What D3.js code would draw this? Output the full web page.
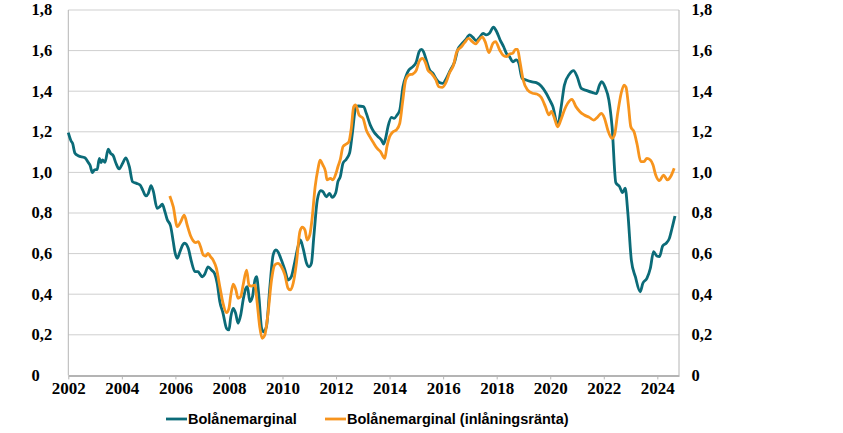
<!DOCTYPE html>
<html>
<head>
<meta charset="utf-8">
<script src="https://cdn.jsdelivr.net/npm/d3@7"></script>
<style>
  html, body { margin: 0; padding: 0; background: #fff; }
  svg { display: block; }
</style>
</head>
<body>
<svg id="chart" width="843" height="433"></svg>
<script>
// Bolånemarginal, [decimal year, percent]
const marginal = [
  [2002.00, 1.196], [2002.10, 1.156], [2002.16, 1.143], [2002.25, 1.094], [2002.37, 1.082],
  [2002.62, 1.072], [2002.75, 1.048], [2002.81, 1.036], [2002.90, 0.999], [2002.97, 1.012],
  [2003.08, 1.015], [2003.16, 1.069], [2003.22, 1.048], [2003.28, 1.061], [2003.37, 1.050],
  [2003.49, 1.115], [2003.58, 1.094], [2003.68, 1.082], [2003.78, 1.045], [2003.90, 1.017],
  [2004.03, 1.045], [2004.15, 1.072], [2004.28, 1.028], [2004.40, 0.954], [2004.55, 0.946],
  [2004.68, 0.938], [2004.78, 0.913], [2004.90, 0.884], [2004.99, 0.897], [2005.09, 0.935],
  [2005.17, 0.910], [2005.32, 0.823], [2005.42, 0.831], [2005.51, 0.843], [2005.61, 0.806],
  [2005.69, 0.769], [2005.82, 0.736], [2005.92, 0.659], [2005.98, 0.609], [2006.07, 0.577],
  [2006.17, 0.609], [2006.27, 0.642], [2006.35, 0.651], [2006.48, 0.626], [2006.60, 0.560],
  [2006.73, 0.511], [2006.85, 0.511], [2006.91, 0.500], [2007.01, 0.486], [2007.10, 0.500],
  [2007.22, 0.535], [2007.35, 0.519], [2007.47, 0.500], [2007.56, 0.454], [2007.66, 0.363],
  [2007.78, 0.306], [2007.91, 0.232], [2008.00, 0.224], [2008.07, 0.289], [2008.16, 0.330],
  [2008.25, 0.306], [2008.34, 0.257], [2008.44, 0.298], [2008.53, 0.371], [2008.63, 0.429],
  [2008.69, 0.437], [2008.78, 0.363], [2008.88, 0.388], [2008.97, 0.470], [2009.03, 0.486],
  [2009.12, 0.388], [2009.22, 0.232], [2009.30, 0.215], [2009.40, 0.240], [2009.53, 0.437],
  [2009.65, 0.593], [2009.75, 0.618], [2009.83, 0.609], [2009.96, 0.568], [2010.09, 0.519],
  [2010.21, 0.470], [2010.33, 0.486], [2010.46, 0.560], [2010.58, 0.634], [2010.67, 0.667],
  [2010.77, 0.626], [2010.90, 0.552], [2010.99, 0.535], [2011.08, 0.552], [2011.17, 0.683],
  [2011.30, 0.864], [2011.42, 0.910], [2011.51, 0.905], [2011.64, 0.880], [2011.76, 0.897],
  [2011.85, 0.877], [2011.99, 0.900], [2012.07, 0.954], [2012.16, 0.979], [2012.26, 1.045],
  [2012.38, 1.064], [2012.51, 1.097], [2012.61, 1.193], [2012.73, 1.316], [2012.82, 1.327],
  [2013.03, 1.324], [2013.13, 1.291], [2013.28, 1.233], [2013.41, 1.200], [2013.57, 1.176],
  [2013.69, 1.160], [2013.78, 1.140], [2013.85, 1.168], [2013.94, 1.225], [2014.07, 1.271],
  [2014.17, 1.266], [2014.28, 1.283], [2014.38, 1.307], [2014.50, 1.422], [2014.63, 1.480],
  [2014.72, 1.504], [2014.87, 1.521], [2015.00, 1.545], [2015.10, 1.594], [2015.19, 1.606],
  [2015.27, 1.594], [2015.37, 1.554], [2015.50, 1.504], [2015.62, 1.488], [2015.75, 1.458],
  [2015.87, 1.442], [2015.99, 1.439], [2016.12, 1.463], [2016.27, 1.504], [2016.43, 1.545],
  [2016.55, 1.606], [2016.68, 1.631], [2016.83, 1.652], [2016.99, 1.677], [2017.11, 1.665],
  [2017.24, 1.649], [2017.36, 1.665], [2017.49, 1.685], [2017.61, 1.677], [2017.73, 1.685],
  [2017.88, 1.715], [2018.00, 1.693], [2018.13, 1.652], [2018.26, 1.619], [2018.36, 1.587],
  [2018.48, 1.570], [2018.60, 1.545], [2018.73, 1.554], [2018.82, 1.540], [2018.95, 1.463],
  [2019.10, 1.455], [2019.29, 1.447], [2019.48, 1.442], [2019.66, 1.426], [2019.85, 1.390],
  [2019.98, 1.357], [2020.10, 1.324], [2020.28, 1.233], [2020.41, 1.324], [2020.53, 1.430],
  [2020.72, 1.485], [2020.87, 1.501], [2021.01, 1.470], [2021.16, 1.414], [2021.37, 1.403],
  [2021.59, 1.393], [2021.72, 1.388], [2021.84, 1.430], [2021.92, 1.447], [2022.05, 1.420],
  [2022.19, 1.357], [2022.31, 1.225], [2022.45, 0.950], [2022.59, 0.930], [2022.70, 0.900],
  [2022.80, 0.922], [2022.90, 0.799], [2023.03, 0.568], [2023.18, 0.486], [2023.36, 0.412],
  [2023.46, 0.454], [2023.61, 0.478], [2023.74, 0.528], [2023.86, 0.609], [2023.98, 0.588],
  [2024.08, 0.585], [2024.20, 0.637], [2024.33, 0.651], [2024.45, 0.675], [2024.55, 0.725],
  [2024.66, 0.785]
];

// Bolånemarginal (inlåningsränta), [decimal year, percent]
const marginalDeposit = [
  [2005.79, 0.884], [2005.92, 0.831], [2006.07, 0.733], [2006.20, 0.757], [2006.33, 0.790],
  [2006.44, 0.741], [2006.57, 0.687], [2006.66, 0.664], [2006.76, 0.654], [2006.85, 0.659],
  [2006.94, 0.634], [2007.04, 0.593], [2007.13, 0.588], [2007.22, 0.601], [2007.31, 0.585],
  [2007.41, 0.568], [2007.53, 0.528], [2007.66, 0.437], [2007.78, 0.355], [2007.91, 0.309],
  [2008.00, 0.330], [2008.07, 0.396], [2008.16, 0.449], [2008.26, 0.421], [2008.34, 0.380],
  [2008.44, 0.388], [2008.53, 0.445], [2008.66, 0.519], [2008.75, 0.445], [2008.84, 0.440],
  [2008.97, 0.445], [2009.05, 0.363], [2009.15, 0.240], [2009.24, 0.183], [2009.34, 0.199],
  [2009.46, 0.306], [2009.59, 0.470], [2009.71, 0.544], [2009.83, 0.552], [2009.96, 0.535],
  [2010.09, 0.495], [2010.21, 0.429], [2010.30, 0.421], [2010.40, 0.454], [2010.52, 0.552],
  [2010.65, 0.708], [2010.74, 0.730], [2010.84, 0.716], [2010.92, 0.667], [2011.02, 0.692],
  [2011.10, 0.765], [2011.22, 0.930], [2011.33, 1.020], [2011.40, 1.060], [2011.51, 1.036],
  [2011.61, 1.003], [2011.66, 0.963], [2011.79, 0.971], [2011.88, 0.963], [2011.99, 0.992],
  [2012.07, 1.028], [2012.16, 1.064], [2012.26, 1.127], [2012.38, 1.140], [2012.48, 1.151],
  [2012.57, 1.217], [2012.66, 1.324], [2012.73, 1.332], [2012.86, 1.283], [2013.01, 1.266],
  [2013.13, 1.209], [2013.26, 1.176], [2013.41, 1.143], [2013.53, 1.119], [2013.66, 1.102],
  [2013.82, 1.069], [2013.90, 1.127], [2014.00, 1.176], [2014.13, 1.200], [2014.25, 1.209],
  [2014.38, 1.242], [2014.48, 1.340], [2014.60, 1.455], [2014.72, 1.480], [2014.87, 1.485],
  [2015.00, 1.504], [2015.10, 1.545], [2015.22, 1.562], [2015.35, 1.537], [2015.43, 1.504],
  [2015.56, 1.488], [2015.72, 1.458], [2015.84, 1.422], [2015.97, 1.419], [2016.12, 1.447],
  [2016.24, 1.491], [2016.39, 1.529], [2016.51, 1.594], [2016.68, 1.619], [2016.80, 1.639],
  [2016.95, 1.660], [2017.09, 1.644], [2017.21, 1.633], [2017.34, 1.652], [2017.46, 1.668],
  [2017.57, 1.644], [2017.71, 1.590], [2017.86, 1.636], [2017.96, 1.644], [2018.11, 1.603],
  [2018.23, 1.578], [2018.36, 1.570], [2018.48, 1.583], [2018.60, 1.587], [2018.70, 1.606],
  [2018.78, 1.606], [2018.87, 1.545], [2018.99, 1.455], [2019.15, 1.406], [2019.34, 1.390],
  [2019.50, 1.386], [2019.66, 1.370], [2019.82, 1.324], [2019.95, 1.283], [2020.04, 1.300],
  [2020.15, 1.270], [2020.28, 1.225], [2020.40, 1.260], [2020.53, 1.307], [2020.65, 1.340],
  [2020.81, 1.360], [2020.96, 1.324], [2021.11, 1.299], [2021.27, 1.283], [2021.46, 1.271],
  [2021.62, 1.258], [2021.78, 1.274], [2021.90, 1.291], [2022.03, 1.266], [2022.15, 1.209],
  [2022.31, 1.168], [2022.40, 1.184], [2022.52, 1.291], [2022.65, 1.390], [2022.76, 1.430],
  [2022.83, 1.420], [2022.92, 1.332], [2023.01, 1.225], [2023.13, 1.200], [2023.25, 1.135],
  [2023.38, 1.053], [2023.50, 1.053], [2023.61, 1.069], [2023.74, 1.061], [2023.84, 1.036],
  [2023.94, 0.987], [2024.08, 0.959], [2024.23, 0.987], [2024.38, 0.963], [2024.51, 0.982],
  [2024.63, 1.020]
];

const yearTicks = [2002, 2004, 2006, 2008, 2010, 2012, 2014, 2016, 2018, 2020, 2022, 2024];
const valueTicks = [0, 0.2, 0.4, 0.6, 0.8, 1.0, 1.2, 1.4, 1.6, 1.8];
const seriesNames = ['Bolånemarginal', 'Bolånemarginal (inlåningsränta)'];

const colors = ['#0b6b78', '#f7941d'];
const serif = "'Liberation Serif', 'Times New Roman', 'DejaVu Serif', serif";
const sans = "'Liberation Sans', Arial, sans-serif";

const area = { left: 68.3, right: 679, top: 10, bottom: 375.4 };

const svg = d3.select('#chart');

const x = d3.scaleLinear().domain([2002, 2024.81]).range([area.left, area.right]);
const y = d3.scaleLinear().domain([0, 1.8]).range([area.bottom, area.top]);

const fmt = (d) => (d === 0 ? '0' : d.toFixed(1).replace('.', ','));

// gridlines
svg.append('g')
  .selectAll('line')
  .data(valueTicks.filter((d) => d > 0))
  .join('line')
  .attr('x1', area.left)
  .attr('x2', area.right)
  .attr('y1', (d) => y(d))
  .attr('y2', (d) => y(d))
  .attr('stroke', '#cfcfcf')
  .attr('stroke-width', 1);

// side axis lines
[area.left, area.right].forEach((ax) => {
  svg.append('line')
    .attr('x1', ax).attr('x2', ax)
    .attr('y1', area.top).attr('y2', area.bottom)
    .attr('stroke', '#b4b4b4').attr('stroke-width', 1);
});

// y labels left and right
[31.5, 691.5].forEach((lx) => {
  svg.append('g')
    .selectAll('text')
    .data(valueTicks)
    .join('text')
    .style('font-family', serif)
    .style('font-weight', 'bold')
    .style('font-size', '16.5px')
    .attr('fill', '#000')
    .attr('x', lx)
    .attr('y', (d) => y(d))
    .attr('dy', '0.33em')
    .text(fmt);
});

// x axis
const xAxis = svg.append('g')
  .attr('transform', `translate(0, ${area.bottom})`)
  .call(d3.axisBottom(x).tickValues(yearTicks).tickFormat(d3.format('d')).tickSize(4).tickSizeOuter(0));

xAxis.select('.domain').attr('stroke', '#b4b4b4').attr('stroke-width', 2);
xAxis.selectAll('.tick line').attr('stroke', '#b4b4b4');
xAxis.selectAll('.tick text')
  .style('font-family', serif)
  .style('font-weight', 'bold')
  .style('font-size', '17px')
  .attr('fill', '#000')
  .attr('y', 7)
  .attr('dy', '0.71em');

// lines
const line = d3.line()
  .x((d) => x(d[0]))
  .y((d) => y(d[1]))
  .curve(d3.curveMonotoneX);

[marginal, marginalDeposit].forEach((series, i) => {
  svg.append('path')
    .datum(series)
    .attr('fill', 'none')
    .attr('stroke', colors[i])
    .attr('stroke-width', 2.8)
    .attr('stroke-linejoin', 'round')
    .attr('d', line);
});

// legend
const legendPos = [166, 325];
const legend = svg.append('g').attr('transform', 'translate(0, 419)');
seriesNames.forEach((name, i) => {
  legend.append('line')
    .attr('x1', legendPos[i]).attr('x2', legendPos[i] + 21)
    .attr('y1', 0).attr('y2', 0)
    .attr('stroke', colors[i]).attr('stroke-width', 2.8);
  legend.append('text')
    .style('font-family', sans)
    .style('font-weight', 'bold')
    .style('font-size', '14.5px')
    .attr('fill', '#000')
    .attr('x', legendPos[i] + 22)
    .attr('y', 5)
    .text(name);
});
</script>
</body>
</html>
